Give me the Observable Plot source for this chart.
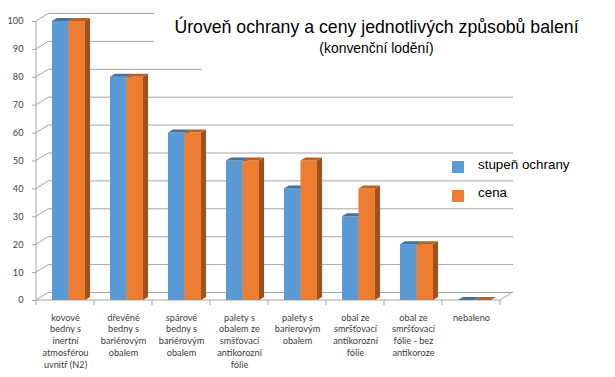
<!DOCTYPE html>
<html>
<head>
<meta charset="utf-8">
<script src="https://cdn.jsdelivr.net/npm/d3@7"></script>
<script src="https://cdn.jsdelivr.net/npm/@observablehq/plot@0.6"></script>
<style>
  html, body { margin: 0; padding: 0; background: #fff; }
  #wrap { position: relative; width: 615px; height: 377px; overflow: hidden; }
  #chart svg { display: block; }
  .abs { position: absolute; white-space: nowrap; }
  .cover { position: absolute; background: #fff; }
  #title { font-family: "Liberation Sans", Arial, sans-serif; font-size: 17.7px; line-height: 20px; color: #000; width: 615px; left: 69px; text-align: center; top: 17.4px; }
  #subtitle { font-family: "Liberation Sans", Arial, sans-serif; font-size: 13.9px; line-height: 16px; color: #000; width: 615px; left: 69px; text-align: center; top: 39.7px; }
  .leg { font-family: "Liberation Sans", Arial, sans-serif; font-size: 13.4px; line-height: 16px; color: #000; left: 478px; }
  .sw { position: absolute; left: 452px; width: 12px; height: 12px; }
  g[aria-label^="y-axis"] path, g[aria-label^="y-axis"] line { stroke: #a6a6a6; }
</style>
</head>
<body>
<div id="wrap">
  <div id="chart"></div>
  <div class="cover" style="left:154px;top:0;width:461px;height:58px"></div>
  <div class="cover" style="left:202px;top:58px;width:413px;height:18px"></div>
  <div id="title" class="abs"></div>
  <div id="subtitle" class="abs"></div>
  <div id="legend"></div>
</div>
<script>
const titleText = "Úroveň ochrany a ceny jednotlivých způsobů balení";
const subtitleText = "(konvenční lodění)";

const categories = [
  "kovové bedny s inertní atmosférou uvnitř (N2)",
  "dřevěné bedny s bariérovým obalem",
  "spárové bedny s bariérovým obalem",
  "palety s obalem ze smšťovací antikorozní fólie",
  "palety s barierovým obalem",
  "obal ze smršťovací antikorozní fólie",
  "obal ze smršťovací fólie - bez antikoroze",
  "nebaleno"
];
const categoryLabels = [
  "kovové\nbedny s\ninertní\natmosférou\nuvnitř (N2)",
  "dřevěné\nbedny s\nbariérovým\nobalem",
  "spárové\nbedny s\nbariérovým\nobalem",
  "palety s\nobalem ze\nsmšťovací\nantikorozní\nfólie",
  "palety s\nbarierovým\nobalem",
  "obal ze\nsmršťovací\nantikorozní\nfólie",
  "obal ze\nsmršťovací\nfólie - bez\nantikoroze",
  "nebaleno"
];
const seriesNames = ["stupeň ochrany", "cena"];
const stupenOchrany = [100, 80, 60, 50, 40, 30, 20, 0];
const cena = [100, 80, 60, 50, 50, 40, 20, 0];
const yTicks = [0, 10, 20, 30, 40, 50, 60, 70, 80, 90, 100];

const seriesValues = [stupenOchrany, cena];
const frontColors = ["#5B9BD5", "#ED7D31"];
const topColors = ["#41719C", "#BE5F20"];
const sideColors = ["#3A6690", "#A0501C"];
const grey = "#a6a6a6";

const rows = categories.map((c, i) => ({cat: c, label: categoryLabels[i]}));

document.getElementById("title").textContent = titleText;
document.getElementById("subtitle").textContent = subtitleText;
const legend = document.getElementById("legend");
const legTops = [157.4, 185.4];
const swTops = [161, 190];
seriesNames.forEach((s, j) => {
  const sw = document.createElement("div");
  sw.className = "sw";
  sw.style.top = swTops[j] + "px";
  sw.style.background = frontColors[j];
  legend.appendChild(sw);
  const t = document.createElement("div");
  t.className = "abs leg";
  t.style.top = legTops[j] + "px";
  t.textContent = s;
  legend.appendChild(t);
});

// 3D scene: floor, left wall, boundary ticks, bars (uses Plot's scales)
function scene(index, scales, values, dimensions) {
  const x = scales.x, y = scales.y;
  let bw = x.bandwidth ? x.bandwidth() : 0;
  if (!bw) bw = (dimensions.width - dimensions.marginLeft - dimensions.marginRight) / categories.length;
  const g = d3.create("svg:g").attr("aria-label", "scene");
  const xs = categories.map(c => x(c));
  const x0 = xs[0], x1 = xs[xs.length - 1] + bw;
  const y0 = y(0);
  const wx = 13, wy = -8;
  // floor
  g.append("path")
    .attr("d", `M${x0},${y0}L${x1},${y0}L${x1 + wx},${y0 + wy}`)
    .attr("fill", "none").attr("stroke", grey);
  // left wall
  g.append("line").attr("x1", x0).attr("x2", x0).attr("y1", y0).attr("y2", y(100)).attr("stroke", grey);
  yTicks.forEach(v => {
    g.append("line").attr("x1", x0).attr("y1", y(v)).attr("x2", x0 + wx).attr("y2", y(v) + wy).attr("stroke", grey);
  });
  // category boundary ticks
  [...xs, x1].forEach(bx => {
    g.append("line").attr("x1", bx).attr("x2", bx).attr("y1", y0).attr("y2", y0 + 5).attr("stroke", grey);
  });
  // bars
  const bdx = 5, bdy = -3;
  categories.forEach((c, i) => {
    const bx = x(c);
    seriesValues.forEach((vals, j) => {
      const l = bx + bw * (0.275 + 0.285 * j);
      const r = l + bw * 0.285;
      const yt = y(vals[i]);
      g.append("path")
        .attr("d", `M${r},${yt}L${r + bdx},${yt + bdy}L${r + bdx},${y0 + bdy}L${r},${y0}Z`)
        .attr("fill", sideColors[j]);
      g.append("rect").attr("x", l).attr("y", yt).attr("width", r - l).attr("height", y0 - yt)
        .attr("fill", frontColors[j]);
      g.append("path")
        .attr("d", `M${l},${yt}L${r},${yt}L${r + bdx},${yt + bdy}L${l + bdx},${yt + bdy}Z`)
        .attr("fill", topColors[j]);
    });
  });
  return g.node();
}

const chart = Plot.plot({
  width: 615,
  height: 377,
  marginLeft: 36,
  marginRight: 115,
  marginTop: 21,
  marginBottom: 77,
  style: {fontFamily: "Lato, 'Noto Sans', sans-serif", fontSize: "9.2px", color: "#404040", background: "transparent"},
  x: {type: "band", domain: categories, padding: 0, axis: null},
  y: {domain: [0, 100], ticks: yTicks, tickSize: 4, tickPadding: 9, label: null},
  marks: [
    Plot.ruleY(yTicks, {y: d => d, dx: 13, dy: -8, stroke: grey}),
    scene,
    Plot.text(rows, {x: "cat", text: "label", frameAnchor: "bottom", lineAnchor: "top", dy: 11.5, lineHeight: 1.3, fill: "#404040", fontSize: 9.2})
  ]
});
document.getElementById("chart").appendChild(chart);
</script>
</body>
</html>
